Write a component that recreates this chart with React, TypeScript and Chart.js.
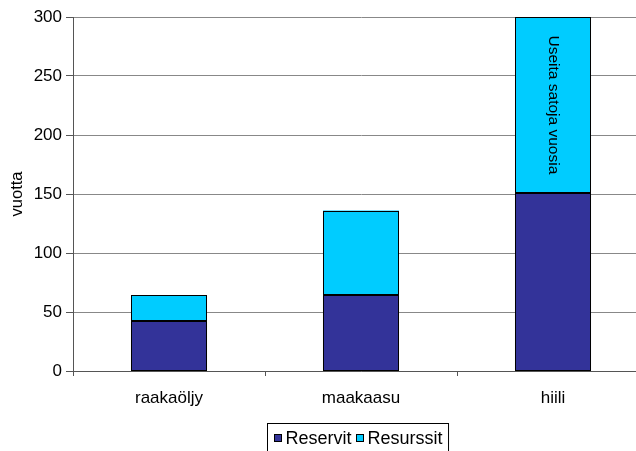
import React, { useEffect, useRef } from "react";
import { Chart, registerables } from "chart.js";

Chart.register(...registerables);

// Energy sources and how many years their reserves / resources last
const categories: string[] = ["raakaöljy", "maakaasu", "hiili"];
const reservit: number[] = [42, 64, 151];
const resurssit: number[] = [22, 72, 149];
const seriesNames: string[] = ["Reservit", "Resurssit"];
const seriesColors: string[] = ["#333399", "#00CCFF"];
const yAxisTitle = "vuotta";
const yMax = 300;
const yStep = 50;
// Note written inside the coal resources segment
const noteText = "Useita satoja vuosia";
const noteSeries = 1;
const noteIndex = 2;

const FONT = "'Liberation Sans', Arial, sans-serif";
const CANVAS_W = 662;
const CANVAS_H = 462;

// Crisp black outline around every bar segment
const outlinePlugin = {
  id: "barOutline",
  afterDatasetsDraw(chart: any) {
    const { ctx } = chart;
    ctx.save();
    ctx.strokeStyle = "#000";
    ctx.lineWidth = 1;
    chart.data.datasets.forEach((_: any, di: number) => {
      const meta = chart.getDatasetMeta(di);
      meta.data.forEach((el: any) => {
        const { x, y, base, width } = el.getProps(["x", "y", "base", "width"], true);
        const l = Math.round(x - width / 2) + 0.5;
        const r = Math.round(x + width / 2) - 0.5;
        const t = Math.round(Math.min(y, base)) + 0.5;
        const b = Math.round(Math.max(y, base)) - 0.5;
        ctx.strokeRect(l, t, r - l, b - t);
      });
    });
    ctx.restore();
  },
};

const notePlugin = {
  id: "barNote",
  afterDatasetsDraw(chart: any) {
    const meta = chart.getDatasetMeta(noteSeries);
    const el = meta.data[noteIndex];
    if (!el) return;
    const { ctx } = chart;
    const cx = el.x;
    const cy = (el.y + el.base) / 2;
    ctx.save();
    ctx.translate(cx, cy);
    ctx.rotate(Math.PI / 2);
    ctx.font = `15.5px ${FONT}`;
    ctx.fillStyle = "#000";
    ctx.textAlign = "center";
    ctx.textBaseline = "middle";
    ctx.fillText(noteText, 0, 0);
    ctx.restore();
  },
};

// Boxed legend below the category labels
const boxLegendPlugin = {
  id: "boxLegend",
  afterDraw(chart: any) {
    const { ctx, chartArea } = chart;
    ctx.save();
    ctx.font = `18px ${FONT}`;
    const sq = 8;
    const gapSq = 4;
    const gapItem = 4;
    const padX = 6;
    const widths = seriesNames.map((n) => ctx.measureText(n).width);
    let total = padX * 2;
    widths.forEach((w, i) => {
      total += sq + gapSq + w + (i < widths.length - 1 ? gapItem : 0);
    });
    const cxMid = (chartArea.left + chartArea.right) / 2;
    const left = Math.round(cxMid - total / 2) - 2.5;
    const top = 423.5;
    const height = 32;
    ctx.fillStyle = "#fff";
    ctx.fillRect(left, top, total, height);
    ctx.strokeStyle = "#000";
    ctx.lineWidth = 1;
    ctx.strokeRect(left, top, total, height);
    const midY = 438;
    let x = left + padX;
    seriesNames.forEach((name, i) => {
      ctx.fillStyle = seriesColors[i];
      ctx.fillRect(Math.round(x), midY - sq / 2, sq, sq);
      ctx.strokeStyle = "#000";
      ctx.strokeRect(Math.round(x) + 0.5, midY - sq / 2 + 0.5, sq - 1, sq - 1);
      x += sq + gapSq;
      ctx.fillStyle = "#000";
      ctx.textAlign = "left";
      ctx.textBaseline = "middle";
      ctx.fillText(name, x, midY + 1);
      x += widths[i] + gapItem;
    });
    ctx.restore();
  },
};

export default function App() {
  const canvasRef = useRef<HTMLCanvasElement | null>(null);

  useEffect(() => {
    const canvas = canvasRef.current;
    if (!canvas) return;
    const chart = new Chart(canvas, {
      type: "bar",
      data: {
        labels: categories,
        datasets: [
          {
            label: seriesNames[0],
            data: reservit,
            backgroundColor: seriesColors[0],
            borderWidth: 0,
          },
          {
            label: seriesNames[1],
            data: resurssit,
            backgroundColor: seriesColors[1],
            borderWidth: 0,
          },
        ],
      },
      options: {
        responsive: false,
        animation: false,
        devicePixelRatio: 1,
        categoryPercentage: 0.396,
        barPercentage: 1,
        layout: { padding: { top: 17, right: CANVAS_W - 649, left: 0, bottom: 0 } },
        plugins: {
          legend: { display: false },
          tooltip: { enabled: false },
        },
        scales: {
          x: {
            stacked: true,
            offset: true,
            afterFit: (s: any) => {
              s.height = CANVAS_H - 371;
            },
            grid: {
              offset: true,
              drawOnChartArea: false,
              drawTicks: true,
              tickLength: 5,
              color: "#555",
            },
            border: { color: "#555", width: 1 },
            ticks: {
              color: "#000",
              font: { family: FONT, size: 17 },
              padding: 12,
            },
          },
          y: {
            stacked: true,
            min: 0,
            max: yMax,
            afterFit: (s: any) => {
              s.width = 73;
            },
            grid: {
              color: "#888",
              drawTicks: true,
              tickLength: 7,
              tickColor: "#555",
            },
            border: { color: "#555", width: 1 },
            ticks: {
              stepSize: yStep,
              color: "#000",
              font: { family: FONT, size: 17 },
              padding: 4,
            },
            title: {
              display: true,
              text: yAxisTitle,
              color: "#000",
              font: { family: FONT, size: 16.5 },
              padding: { top: 7.5, bottom: 0 },
            },
          },
        },
      },
      plugins: [outlinePlugin, notePlugin, boxLegendPlugin],
    });
    return () => chart.destroy();
  }, []);

  return (
    <div
      style={{
        position: "fixed",
        left: 0,
        top: 0,
        width: 636,
        height: 451,
        overflow: "hidden",
        background: "#fff",
      }}
    >
      <canvas
        ref={canvasRef}
        width={CANVAS_W}
        height={CANVAS_H}
        style={{ display: "block", width: CANVAS_W, height: CANVAS_H }}
      />
    </div>
  );
}
